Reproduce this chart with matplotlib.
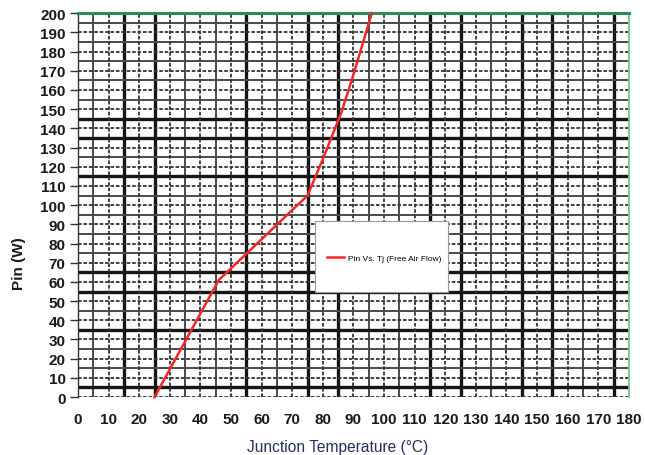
import numpy as np
import matplotlib
matplotlib.use("Agg")
import matplotlib.pyplot as plt
from matplotlib.patches import Rectangle

plt.rcParams['font.family'] = ['Liberation Sans', 'DejaVu Sans']

# Pin vs Tj curve
tj = [25, 46, 75, 80, 86, 90, 96]
pin = [0, 61, 105, 124, 148, 168, 200]
series_label = "Pin Vs. Tj (Free Air Flow)"

x_ticks = list(range(0, 181, 10))
y_ticks = list(range(0, 201, 10))

# the scanned grid has some of the half-step lines drawn heavier
heavy_x = [15, 25, 55, 75, 85, 115, 125, 145, 155, 175]
heavy_y = [5, 35, 55, 65, 115, 135, 145]

fig = plt.figure(figsize=(6.45, 4.56), dpi=100)
ax = fig.add_axes([0.121, 0.127, 0.854, 0.842])
ax.set_xlim(0, 180)
ax.set_ylim(0, 200)

for v in np.arange(5, 180, 10):
    if v in heavy_x:
        ax.axvline(v, color='#151515', lw=2.4, zorder=1)
    else:
        ax.axvline(v, color='#4a4a4a', lw=1.4, zorder=1)
for v in np.arange(5, 200, 10):
    if v in heavy_y:
        ax.axhline(v, color='#151515', lw=2.4, zorder=1)
    else:
        ax.axhline(v, color='#4a4a4a', lw=1.4, zorder=1)
for v in x_ticks[:-1]:
    ax.axvline(v, color='#333333', lw=1.3, ls=(0, (2, 1)), zorder=1.5)
for v in y_ticks[:-1]:
    ax.axhline(v, color='#333333', lw=1.3, ls=(0, (2, 1)), zorder=1.5)

ax.plot(tj, pin, color='#f02828', lw=1.8, zorder=3, label=series_label, clip_on=False)

ax.spines['bottom'].set_visible(False)
ax.spines['left'].set_color('#333333')
ax.spines['left'].set_linewidth(1.0)
ax.spines['top'].set_color('#2e8b57')
ax.spines['top'].set_linewidth(2.2)
ax.spines['right'].set_color('#77c488')
ax.spines['right'].set_linewidth(1.3)

ax.set_xticks(x_ticks)
ax.set_yticks(y_ticks)
ax.tick_params(axis='y', length=6, width=1, color='#333333', pad=3)
ax.tick_params(axis='x', length=0, pad=11)
for lbl in ax.get_xticklabels() + ax.get_yticklabels():
    lbl.set_fontsize(11)
    lbl.set_fontweight('bold')
    lbl.set_color('#1a1a1a')

ax.set_ylabel("Pin (W)", fontsize=11, fontweight='bold', color='#1a1a1a')
ax.yaxis.set_label_coords(-0.095, 0.35)
fig.text(0.524, 0.003, "Junction Temperature (\u00b0C)", fontsize=11.2,
         color='#23305e', ha='center', va='bottom')

ax.add_patch(Rectangle((0.430, 0.273), 0.241, 0.185, transform=ax.transAxes,
                       facecolor='white', edgecolor='#999999', lw=0.8, zorder=4))
leg = ax.legend(loc='center left', bbox_to_anchor=(0.452, 0.362), frameon=False,
                fontsize=6, handlelength=2.0, handletextpad=0.5,
                borderaxespad=0, borderpad=0)
leg.set_zorder(5)

fig.savefig("out.png", dpi=100)
